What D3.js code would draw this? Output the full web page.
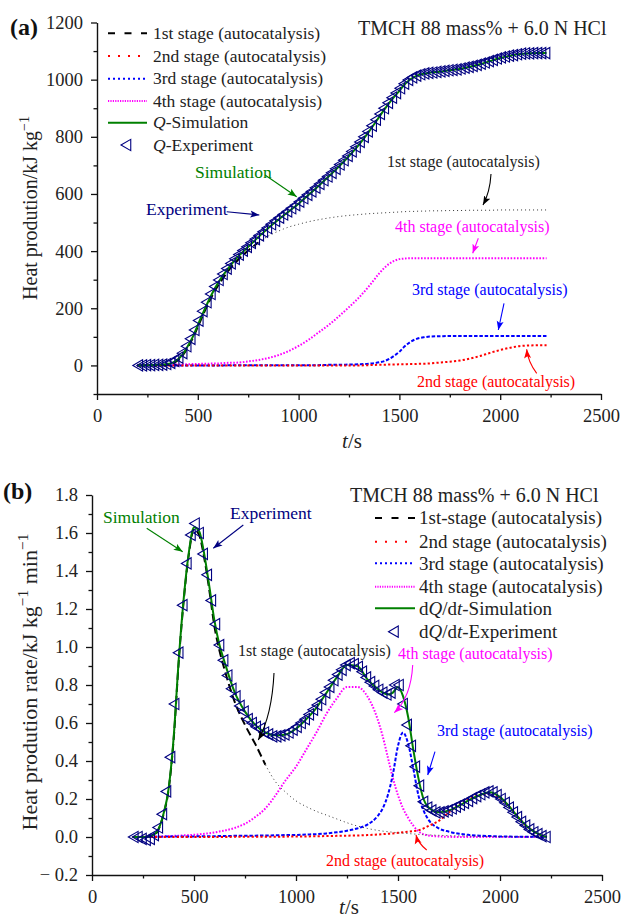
<!DOCTYPE html>
<html>
<head>
<meta charset="utf-8">
<script src="https://cdn.jsdelivr.net/npm/d3@7"></script>
<style>
  body { margin: 0; background: #fff; }
  text { font-family: "Liberation Serif", "Times New Roman", serif; fill: #222; }
</style>
</head>
<body>
<script>
// ---- data ----
// model curves (simulation and stage contributions), t in s
const modelT = [200, 250, 300, 325, 350, 375, 400, 425, 450, 475, 500, 525, 550, 575, 600, 625, 650,
  700, 750, 800, 850, 900, 950, 1000, 1050, 1100, 1150, 1200, 1250, 1300, 1350, 1400,
  1425, 1450, 1475, 1500, 1525, 1550, 1575, 1600, 1625, 1650,
  1700, 1750, 1800, 1850, 1900, 1950, 2000, 2050, 2100, 2150, 2200, 2230];

// (a) heat production, kJ/kg
const qSim = [0, 1, 2, 3, 5, 10, 21, 39, 67, 100, 141, 182, 221, 257, 288, 315, 339,
  381, 415, 449, 481, 510, 538, 566, 597, 629, 662, 696, 733, 773, 819, 870,
  895, 919, 941, 961, 983, 999, 1010, 1017, 1021, 1024,
  1028, 1033, 1037, 1045, 1054, 1065, 1076, 1084, 1090, 1092, 1093, 1093];
const q1 = [0, 0, 0, 1, 2, 7, 17, 35, 62, 95, 135, 175, 214, 249, 279, 305, 330,
  370, 402, 430, 453, 470, 484, 494, 503, 510, 516, 521, 525, 528, 531, 533,
  534, 535, 536, 537, 538, 539, 539, 540, 540, 541,
  541, 542, 542, 543, 543, 543, 544, 544, 544, 544, 544, 544];
const q2 = [0, 0, 0, 0, 0, 0, 0, 0, 0, 0, 0, 0, 0, 0, 0, 0, 0,
  0, 0, 0, 0, 0, 0, 0, 0, 0, 0, 0, 0, 0, 1, 2,
  2, 3, 3, 4, 4, 5, 5, 6, 6, 7,
  10, 13, 17, 24, 33, 44, 54, 62, 68, 70, 71, 71];
const q3 = [0, 0, 0, 0, 0, 0, 0, 0, 0, 0, 0, 0, 0, 0, 0, 0, 1,
  1, 1, 1, 1, 1, 1, 1, 1, 1, 2, 2, 3, 4, 6, 11,
  15, 23, 34, 48, 66, 80, 90, 96, 99, 101,
  102, 103, 103, 103, 103, 103, 103, 103, 103, 103, 103, 103];
const q4 = [0, 1, 1, 2, 2, 3, 3, 4, 4, 5, 5, 6, 6, 7, 7, 8, 9,
  10, 14, 19, 26, 36, 50, 68, 90, 116, 142, 172, 204, 238, 278, 322,
  341, 356, 366, 372, 374, 375, 375, 375, 375, 375,
  375, 375, 375, 375, 375, 375, 375, 375, 375, 375, 375, 375];

// (b) heat production rate, kJ/kg/min
const rSim = [0, 0, 0.01, 0.04, 0.12, 0.25, 0.52, 0.93, 1.26, 1.50, 1.63, 1.61, 1.49, 1.32, 1.14, 1.01, 0.92,
  0.76, 0.66, 0.59, 0.55, 0.535, 0.54, 0.57, 0.62, 0.68, 0.76, 0.84, 0.905, 0.90, 0.83, 0.78,
  0.76, 0.75, 0.76, 0.79, 0.74, 0.63, 0.46, 0.31, 0.20, 0.155,
  0.13, 0.14, 0.165, 0.195, 0.22, 0.235, 0.21, 0.155, 0.09, 0.04, 0.01, 0];
const r1 = [0, 0, 0.008, 0.037, 0.116, 0.245, 0.51, 0.92, 1.25, 1.49, 1.62, 1.59, 1.47, 1.30, 1.11, 0.98, 0.88,
  0.71, 0.59, 0.49, 0.38, 0.29, 0.235, 0.19, 0.16, 0.135, 0.115, 0.095, 0.075, 0.058, 0.045, 0.035,
  0.031, 0.028, 0.025, 0.022, 0.02, 0.018, 0.016, 0.014, 0.012, 0.011,
  0.009, 0.007, 0.006, 0.005, 0.004, 0.003, 0.002, 0.002, 0.001, 0.001, 0.001, 0];
const r2 = [0, 0, 0, 0, 0, 0, 0, 0, 0, 0, 0, 0, 0, 0, 0, 0, 0,
  0.001, 0.001, 0.001, 0.001, 0.001, 0.002, 0.002, 0.003, 0.004, 0.005, 0.006, 0.007, 0.008, 0.01, 0.013,
  0.015, 0.017, 0.019, 0.022, 0.025, 0.028, 0.031, 0.035, 0.045, 0.058,
  0.085, 0.13, 0.17, 0.20, 0.22, 0.23, 0.205, 0.155, 0.09, 0.04, 0.01, 0.003];
const r3 = [0, 0, 0.001, 0.001, 0.002, 0.002, 0.002, 0.003, 0.003, 0.003, 0.003, 0.004, 0.004, 0.004, 0.004, 0.005, 0.005,
  0.006, 0.006, 0.007, 0.008, 0.009, 0.01, 0.011, 0.013, 0.015, 0.019, 0.025, 0.033, 0.045, 0.065, 0.11,
  0.15, 0.22, 0.33, 0.48, 0.55, 0.49, 0.36, 0.22, 0.14, 0.09,
  0.045, 0.028, 0.017, 0.011, 0.007, 0.005, 0.003, 0.002, 0.001, 0.001, 0, 0];
const r4 = [0, 0.001, 0.002, 0.003, 0.004, 0.005, 0.006, 0.007, 0.009, 0.01, 0.012, 0.014, 0.017, 0.02, 0.024, 0.029, 0.034,
  0.048, 0.07, 0.105, 0.15, 0.22, 0.30, 0.37, 0.46, 0.55, 0.65, 0.73, 0.79, 0.79, 0.74, 0.62,
  0.53, 0.42, 0.31, 0.22, 0.15, 0.10, 0.06, 0.03, 0.015, 0.008,
  0.003, 0.001, 0, 0, 0, 0, 0, 0, 0, 0, 0, 0];

// experiment points
const expT = [210, 230, 250, 270, 290, 310, 330, 350, 370, 390,
  410, 430, 450, 470, 490, 510, 530, 550, 570, 590,
  610, 630, 650, 670, 690, 710, 730, 750, 770, 790,
  810, 830, 850, 870, 890, 910, 930, 950, 970, 990,
  1010, 1030, 1050, 1070, 1090, 1110, 1130, 1150, 1170, 1190,
  1210, 1230, 1250, 1270, 1290, 1310, 1330, 1350, 1370, 1390,
  1410, 1430, 1450, 1470, 1490, 1510, 1530, 1550, 1570, 1590,
  1610, 1630, 1650, 1670, 1690, 1710, 1730, 1750, 1770, 1790,
  1810, 1830, 1850, 1870, 1890, 1910, 1930, 1950, 1970, 1990,
  2010, 2030, 2050, 2070, 2090, 2110, 2130, 2150, 2170, 2190,
  2210, 2230];
const qExp = [0, 0, 1, 1, 2, 2, 3, 5, 9, 16,
  27, 43, 67, 93, 124, 157, 190, 221, 250, 276,
  299, 320, 339, 357, 373, 388, 402, 415, 429, 442,
  455, 468, 481, 494, 506, 517, 528, 539, 550, 561,
  573, 585, 597, 609, 622, 635, 648, 661, 674, 688,
  703, 718, 733, 749, 765, 782, 800, 819, 839, 860,
  880, 900, 919, 937, 953, 970, 986, 999, 1008, 1014,
  1019, 1022, 1024, 1025, 1027, 1029, 1031, 1033, 1034, 1036,
  1039, 1042, 1045, 1048, 1052, 1056, 1060, 1065, 1069, 1074,
  1078, 1081, 1084, 1086, 1089, 1091, 1092, 1092, 1093, 1093,
  1093, 1093];
const rExp = [0, 0, -0.01, -0.015, -0.01, 0.01, 0.05, 0.12, 0.24, 0.42,
  0.70, 0.97, 1.22, 1.44, 1.59, 1.65, 1.60, 1.49, 1.38, 1.245,
  1.12, 1.01, 0.93, 0.85, 0.78, 0.74, 0.69, 0.66, 0.62, 0.60,
  0.58, 0.57, 0.55, 0.54, 0.53, 0.53, 0.535, 0.54, 0.55, 0.565,
  0.58, 0.60, 0.62, 0.645, 0.67, 0.695, 0.725, 0.76, 0.79, 0.825,
  0.855, 0.88, 0.905, 0.915, 0.91, 0.895, 0.87, 0.84, 0.815, 0.795,
  0.775, 0.76, 0.75, 0.76, 0.80, 0.80, 0.70, 0.59, 0.48, 0.37,
  0.27, 0.185, 0.155, 0.14, 0.13, 0.13, 0.135, 0.14, 0.15, 0.16,
  0.17, 0.18, 0.19, 0.205, 0.215, 0.225, 0.235, 0.24, 0.235, 0.22,
  0.20, 0.18, 0.155, 0.13, 0.105, 0.08, 0.06, 0.04, 0.025, 0.015,
  0.005, 0];

// ticks
const xTicks = [0, 500, 1000, 1500, 2000, 2500];
const xMinor = [250, 750, 1250, 1750, 2250];
const yTicksA = [0, 200, 400, 600, 800, 1000, 1200];
const yMinorA = [-100, 100, 300, 500, 700, 900, 1100];
const yTicksB = [-0.2, 0, 0.2, 0.4, 0.6, 0.8, 1.0, 1.2, 1.4, 1.6, 1.8];
const yMinorB = [-0.1, 0.1, 0.3, 0.5, 0.7, 0.9, 1.1, 1.3, 1.5, 1.7];

// 1st stage drawn dashed up to this time, thin dotted after
const stageCutA = 800, stageCutB = 850;

// ---- drawing ----
const FONT = '"Liberation Serif", "Times New Roman", serif';
const svg = d3.select("body").append("svg")
  .attr("width", 624).attr("height", 924)
  .attr("font-family", FONT);

const colors = { black: "#000", green: "#008000", navy: "#000080", blue: "#0000ff", magenta: "#ff00ff", red: "#ff0000" };

const defs = svg.append("defs");
Object.entries(colors).forEach(([k, c]) => {
  defs.append("marker")
    .attr("id", "arr-" + k)
    .attr("markerUnits", "userSpaceOnUse")
    .attr("markerWidth", 10).attr("markerHeight", 8)
    .attr("refX", 9).attr("refY", 4)
    .attr("orient", "auto")
    .append("path").attr("d", "M0,0.5 L9,4 L0,7.5 L2,4 z").attr("fill", c);
});

const styles = {
  s1: { stroke: "#000", width: 2, dash: "8,4" },
  s1dot: { stroke: "#333", width: 1, dash: "1,3" },
  s2: { stroke: colors.red, width: 2, dash: "2.2,2.2" },
  s3: { stroke: colors.blue, width: 2, dash: "3.5,1.8" },
  s4: { stroke: colors.magenta, width: 2, dash: "1.6,1.6" },
  sim: { stroke: colors.green, width: 2, dash: null }
};

function drawAxes(x, y, yTicks, yMinor, yFmt) {
  const y0 = y.range()[0], x0 = x.range()[0];
  const gx = svg.append("g").attr("transform", `translate(0,${y0})`)
    .call(d3.axisBottom(x).tickValues(xTicks).tickSize(6).tickSizeOuter(0).tickPadding(9).tickFormat(d => d));
  svg.append("g").attr("transform", `translate(0,${y0})`)
    .call(d3.axisBottom(x).tickValues(xMinor).tickSize(3.5).tickFormat(""))
    .select(".domain").remove();
  const gy = svg.append("g").attr("transform", `translate(${x0},0)`)
    .call(d3.axisLeft(y).tickValues(yTicks).tickSize(6).tickSizeOuter(0).tickPadding(8).tickFormat(yFmt));
  svg.append("g").attr("transform", `translate(${x0},0)`)
    .call(d3.axisLeft(y).tickValues(yMinor).tickSize(3.5).tickFormat(""))
    .select(".domain").remove();
  svg.selectAll(".domain").attr("stroke", "#111").attr("stroke-width", 1.4);
  svg.selectAll(".tick line").attr("stroke", "#111").attr("stroke-width", 1.3);
  [gx, gy].forEach(g => {
    g.attr("font-family", FONT).attr("font-size", 18.5);
    g.selectAll("text").attr("fill", "#222");
  });
}

function drawCurve(x, y, ts, vs, st) {
  const line = d3.line().x((d, i) => x(ts[i])).y(d => y(d)).curve(d3.curveMonotoneX);
  svg.append("path").datum(vs)
    .attr("d", line)
    .attr("fill", "none")
    .attr("stroke", st.stroke)
    .attr("stroke-width", st.width)
    .attr("stroke-dasharray", st.dash);
}

function drawStage1(x, y, vs, cutT) {
  const cut = modelT.findIndex(t => t > cutT);
  drawCurve(x, y, modelT.slice(0, cut), vs.slice(0, cut), styles.s1);
  drawCurve(x, y, modelT.slice(cut - 1), vs.slice(cut - 1), styles.s1dot);
}

const tri = d3.symbol().type(d3.symbolTriangle).size(55)();
function drawExp(x, y, vs) {
  svg.append("g").selectAll("path").data(vs).join("path")
    .attr("d", tri)
    .attr("transform", (d, i) => `translate(${x(expT[i])},${y(d)}) rotate(-90)`)
    .attr("fill", "none")
    .attr("stroke", colors.navy)
    .attr("stroke-width", 1.1);
}

function txt(x, y, s, size, color, opts = {}) {
  const t = svg.append("text").attr("x", x).attr("y", y)
    .style("font-size", size + "px").attr("fill", color).style("fill", color)
    .text(s);
  if (opts.weight) t.style("font-weight", opts.weight);
  if (opts.anchor) t.attr("text-anchor", opts.anchor);
  return t;
}
// parts: [text, italic?, superscript?, back-to-baseline?]
function rich(t, parts, size) {
  parts.forEach(p => {
    const sp = t.append("tspan").text(p[0]);
    if (p[1]) sp.style("font-style", "italic");
    if (p[2]) sp.attr("dy", -size * 0.4).style("font-size", (size * 0.7) + "px");
    if (p[3]) sp.attr("dy", size * 0.4);
  });
  return t;
}

function arrow(d, color) {
  svg.append("path").attr("d", d).attr("fill", "none")
    .attr("stroke", colors[color]).attr("stroke-width", 1.1)
    .attr("marker-end", `url(#arr-${color})`);
}

function legend(x1, x2, tx, rows, size, items) {
  items.forEach((it, i) => {
    const cy = rows[i];
    if (it.st) {
      svg.append("line").attr("x1", x1).attr("x2", x2).attr("y1", cy).attr("y2", cy)
        .attr("stroke", it.st.stroke).attr("stroke-width", it.st.width)
        .attr("stroke-dasharray", it.dash || it.st.dash);
    } else {
      svg.append("path").attr("d", tri)
        .attr("transform", `translate(${(x1 + x2) / 2},${cy}) rotate(-90)`)
        .attr("fill", "none").attr("stroke", colors.navy).attr("stroke-width", 1.1);
    }
    rich(txt(tx, cy + size * 0.33, "", size, "#222"), it.label, size);
  });
}

// ================= panel (a) =================
const xA = d3.scaleLinear().domain([0, 2500]).range([97, 601]);
const yA = d3.scaleLinear().domain([-100, 1200]).range([394, 22.5]);
drawAxes(xA, yA, yTicksA, yMinorA, d => d);

drawCurve(xA, yA, modelT, q4, styles.s4);
drawCurve(xA, yA, modelT, q3, styles.s3);
drawCurve(xA, yA, modelT, q2, styles.s2);
drawStage1(xA, yA, q1, stageCutA);
drawCurve(xA, yA, modelT, qSim, styles.sim);
drawExp(xA, yA, qExp);

txt(10, 35, "(a)", 24, "#111", { weight: "bold" });
txt(358, 35, "TMCH 88 mass% + 6.0 N HCl", 20, "#222");
legend(108, 147, 153, [33.3, 56, 78.7, 101, 122.7, 145], 17.5, [
  { st: styles.s1, dash: "7,9.5", label: [["1st stage (autocatalysis)"]] },
  { st: styles.s2, dash: "2,8", label: [["2nd stage (autocatalysis)"]] },
  { st: styles.s3, dash: "2,3", label: [["3rd stage (autocatalysis)"]] },
  { st: styles.s4, dash: "1.2,1.2", label: [["4th stage (autocatalysis)"]] },
  { st: styles.sim, label: [["Q", true], ["-Simulation"]] },
  { st: null, label: [["Q", true], ["-Experiment"]] }
]);

rich(svg.append("text").attr("text-anchor", "middle")
  .attr("transform", "translate(37,208) rotate(-90)").style("font-size", "20px").attr("fill", "#222"),
  [["Heat prodution/kJ kg"], ["\u22121", false, true]], 20);
rich(txt(352, 448, "", 21, "#222", { anchor: "middle" }), [["t", true], ["/s"]], 21);

txt(195, 177.5, "Simulation", 17.5, colors.green);
arrow("M265,175 L296.7,196.7", "green");
txt(146, 215, "Experiment", 17.5, colors.navy);
arrow("M226.7,211.7 L259.3,215", "navy");
txt(387, 167, "1st stage (autocatalysis)", 16, "#222");
arrow("M491,174 Q490,192 483,205", "black");
txt(395, 232, "4th stage (autocatalysis)", 16, colors.magenta);
arrow("M478.3,238.3 L472.7,253.3", "magenta");
txt(412, 295, "3rd stage (autocatalysis)", 16, colors.blue);
arrow("M504,303.3 L498.3,330", "blue");
txt(417, 387, "2nd stage (autocatalysis)", 16, colors.red);
arrow("M536.7,373.3 Q528,362 526.7,349.3", "red");

// ================= panel (b) =================
const xB = d3.scaleLinear().domain([0, 2500]).range([92, 602]);
const yB = d3.scaleLinear().domain([-0.2, 1.8]).range([875, 495]);
drawAxes(xB, yB, yTicksB, yMinorB, d => d < 0 ? "\u2212 " + Math.abs(d).toFixed(1) : d.toFixed(1));

drawCurve(xB, yB, modelT, r4, styles.s4);
drawCurve(xB, yB, modelT, r3, styles.s3);
drawCurve(xB, yB, modelT, r2, styles.s2);
drawStage1(xB, yB, r1, stageCutB);
drawCurve(xB, yB, modelT, rSim, styles.sim);
drawExp(xB, yB, rExp);

txt(3, 499, "(b)", 24, "#111", { weight: "bold" });
txt(350, 502, "TMCH 88 mass% + 6.0 N HCl", 20, "#222");
legend(375, 415, 419, [518, 541.7, 563.3, 586.7, 608.3, 631.7], 19, [
  { st: styles.s1, dash: "7,9.5", label: [["1st-stage (autocatalysis)"]] },
  { st: styles.s2, dash: "2,8", label: [["2nd stage (autocatalysis)"]] },
  { st: styles.s3, dash: "2,3", label: [["3rd stage (autocatalysis)"]] },
  { st: styles.s4, dash: "1.2,1.2", label: [["4th stage (autocatalysis)"]] },
  { st: styles.sim, label: [["d"], ["Q", true], ["/d"], ["t", true], ["-Simulation"]] },
  { st: null, label: [["d"], ["Q", true], ["/d"], ["t", true], ["-Experiment"]] }
]);

rich(svg.append("text").attr("text-anchor", "middle")
  .attr("transform", "translate(37,682) rotate(-90)").style("font-size", "22px").attr("fill", "#222"),
  [["Heat prodution rate/kJ kg"], ["\u22121", false, true], [" min", false, false, true], ["\u22121", false, true]], 22);
rich(txt(349, 914, "", 21, "#222", { anchor: "middle" }), [["t", true], ["/s"]], 21);

txt(103, 522.5, "Simulation", 17.5, colors.green);
arrow("M146.7,528.3 L182.7,551.7", "green");
txt(230, 519, "Experiment", 17.5, colors.navy);
arrow("M243.3,525 L213.3,548.3", "navy");
txt(238, 656, "1st stage (autocatalysis)", 16, "#222");
arrow("M274,673 Q272,715 258.3,740", "black");
txt(398, 659, "4th stage (autocatalysis)", 16, colors.magenta);
arrow("M412.7,665 Q411,697 394.3,712.7", "magenta");
txt(437, 735.5, "3rd stage (autocatalysis)", 16, colors.blue);
arrow("M435,751.7 L427.7,775", "blue");
txt(326, 865.5, "2nd stage (autocatalysis)", 16, colors.red);
arrow("M426.7,850 Q418,843 416,835", "red");
</script>
</body>
</html>
